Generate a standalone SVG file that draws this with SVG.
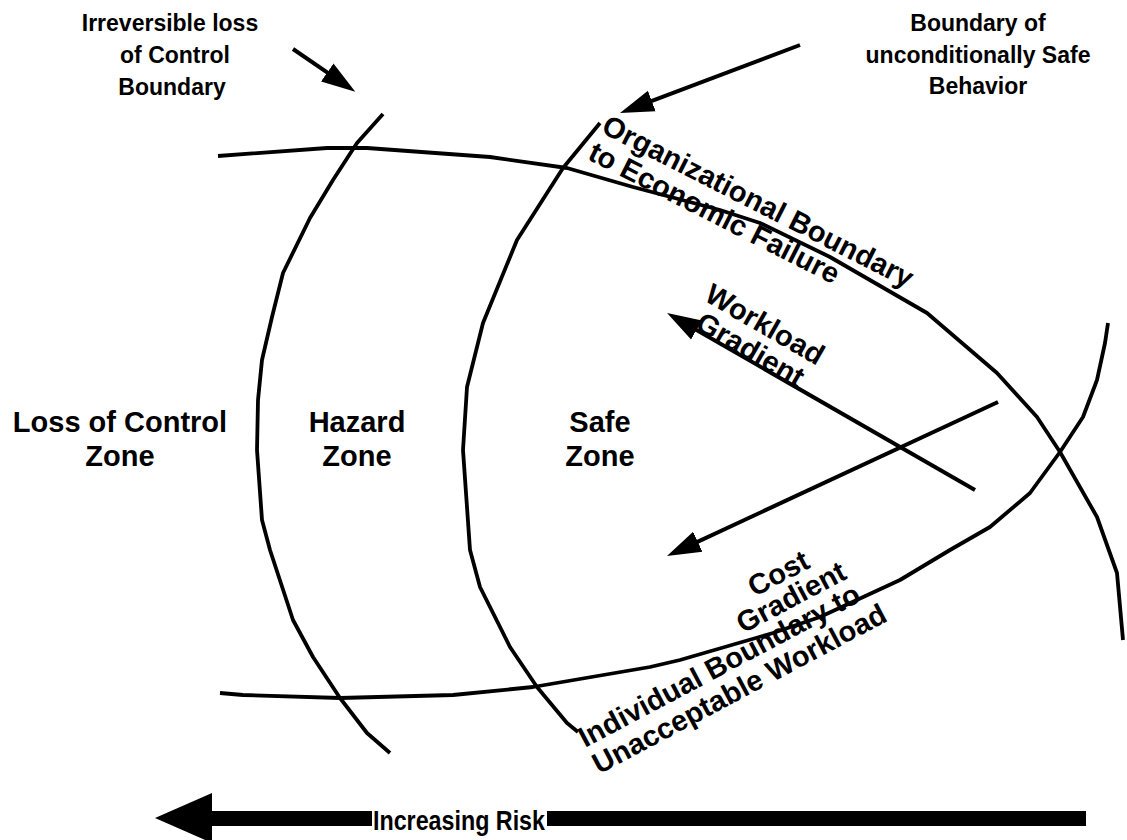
<svg xmlns="http://www.w3.org/2000/svg" width="1127" height="840" viewBox="0 0 1127 840">
<style>
text{font-family:"Liberation Sans",Arial,Helvetica,sans-serif;font-weight:bold;fill:#000}
.t{font-size:23px;text-anchor:middle}
.z{font-size:29px;text-anchor:middle}
.r{font-size:29px}
.curve{fill:none;stroke:#000;stroke-width:3.8;stroke-linejoin:round;stroke-linecap:butt}
.arr{fill:none;stroke:#000;stroke-width:4}
</style>
<defs>
<marker id="ah" markerUnits="userSpaceOnUse" markerWidth="36" markerHeight="24" refX="14" refY="12" orient="auto">
<path d="M0,1 L34,12 L0,23 z" fill="#000"/>
</marker>
</defs>
<rect width="1127" height="840" fill="#fff"/>
<g id="boundaries">
<polyline id="irreversible-boundary" class="curve" points="383,114 357,143 333,180 310,218 283,273 272,317 262,360 258,400 257,450 262,520 270,550 293,620 313,657 340,698 367,733 390,753"/>
<polyline id="safe-boundary" class="curve" points="600,123 563,168 517,240 483,323 467,387 463,450 470,550 480,587 510,647 537,687 567,723 578,732"/>
<polyline id="economic-boundary" class="curve" points="218,156 327,148 367,148 490,157 567,168 633,187 720,210 760,223 830,257 927,313 997,373 1037,417 1060,452 1097,517 1117,573 1123,640"/>
<polyline id="workload-boundary" class="curve" points="220,693 243,695 340,698 453,695 533,687 650,667 680,660 773,633 820,617 900,580 950,550 990,527 1030,493 1060,452 1083,417 1097,380 1105,343 1108,323"/>
</g>
<g id="connectors">
<line class="arr" x1="293" y1="49" x2="338.8" y2="80.4" marker-end="url(#ah)"/>
<line class="arr" x1="800" y1="45" x2="638.7" y2="105.9" marker-end="url(#ah)"/>
<line class="arr" x1="975" y1="490" x2="684.4" y2="323" marker-end="url(#ah)"/>
<line class="arr" x1="998" y1="402" x2="685.1" y2="547.6" marker-end="url(#ah)"/>
<polygon id="risk-arrow" points="155,818 212,793 212,811 372,811 372,826 212,826 212,843" fill="#000"/>
<rect x="547" y="811" width="539" height="15" fill="#000"/>
</g>
<g id="label-irreversible"><text class="t" x="170" y="31">Irreversible loss</text><text class="t" x="175" y="63">of Control</text><text class="t" x="172" y="95">Boundary</text></g>
<g id="label-safe-boundary"><text class="t" x="978" y="31">Boundary of</text><text class="t" x="978" y="63">unconditionally Safe</text><text class="t" x="978" y="94">Behavior</text></g>
<g id="zone-loss"><text class="z" x="120" y="432">Loss of Control</text><text class="z" x="120" y="466">Zone</text></g>
<g id="zone-hazard"><text class="z" x="357" y="432">Hazard</text><text class="z" x="357" y="466">Zone</text></g>
<g id="zone-safe"><text class="z" x="600" y="432">Safe</text><text class="z" x="600" y="466">Zone</text></g>
<g id="label-economic" transform="translate(600,132) rotate(27)"><text class="r" x="0" y="0">Organizational Boundary</text><text class="r" x="0" y="30">to Economic Failure</text></g>
<g id="label-workload-gradient" transform="translate(760,333) rotate(30)"><text class="r" x="0" y="0" text-anchor="middle">Workload</text><text class="r" x="0" y="29" text-anchor="middle">Gradient</text></g>
<g id="label-cost-gradient" transform="translate(783,582) rotate(-28)"><text class="r" x="0" y="0" text-anchor="middle">Cost</text><text class="r" x="0" y="27" text-anchor="middle">Gradient</text></g>
<g id="label-individual" transform="translate(585,748) rotate(-28)"><text class="r" x="0" y="0">Individual Boundary to</text><text class="r" x="0" y="30">Unacceptable Workload</text></g>
<g id="label-risk"><text x="373" y="830" font-size="28" textLength="172" lengthAdjust="spacingAndGlyphs">Increasing Risk</text></g>
</svg>
